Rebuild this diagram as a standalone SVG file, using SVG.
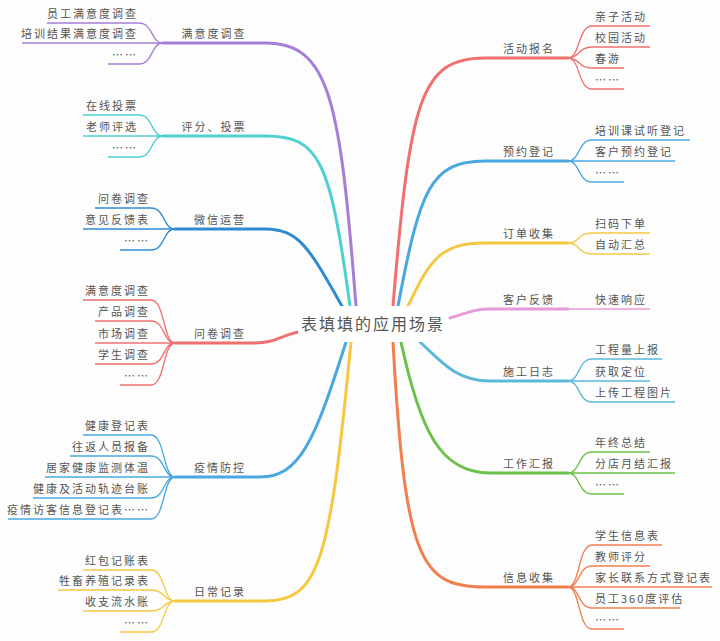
<svg xmlns="http://www.w3.org/2000/svg" width="720" height="641" viewBox="0 0 720 641">
<style>
text{font-family:"Noto Sans CJK SC","Noto Sans",sans-serif;font-size:11px;fill:#555;letter-spacing:2px}
.l{text-anchor:end}.m{text-anchor:middle}
.s{fill:none;stroke-width:1.3}.b{fill:none;stroke-width:3;stroke-linecap:round}
</style>
<rect width="720" height="641" fill="#fdfdfd"/>
<g id="connectors">
<path class="b" stroke="#a57fd6" d="M356,306 C340,100 330,43 265,43 H163"/>
<path class="b" stroke="#4fd0d0" d="M350,306 C330,160 320,136 265,136 H163"/>
<path class="b" stroke="#2f8ad2" stroke-width="3.5" d="M342,306 C310,250 300,229 265,229 H175"/>
<path class="b" stroke="#f07070" d="M298,332 C280,336 275,343 255,343 H175"/>
<path class="b" stroke="#4aa8e0" d="M346,342 C315,440 300,477 260,477 H175"/>
<path class="b" stroke="#f5c842" d="M351,342 C330,560 320,601 265,601 H175"/>
<path class="b" stroke="#f07070" d="M393,306 C410,100 420,58 485,58 H568"/>
<path class="b" stroke="#4aa8e0" d="M398,306 C420,190 430,161 485,161 H568"/>
<path class="b" stroke="#f5c842" d="M408,306 C430,260 440,243 485,243 H568"/>
<path class="b" stroke="#e89ad8" d="M450,318 C470,312 475,309 490,309 H568"/>
<path class="b" stroke="#5bb8d8" d="M420,342 C440,360 455,381 490,381 H568"/>
<path class="b" stroke="#6cc14a" d="M401,342 C420,430 440,473 490,473 H568"/>
<path class="b" stroke="#f08050" d="M393,342 C405,560 420,587 485,587 H568"/>
<g stroke="#a57fd6" class="s"><path d="M163,43 C151,43 153,23 139,23 H47"/><path d="M163,43 H22"/><path d="M163,43 C151,43 153,64 139,64 H108"/></g>
<g stroke="#4fd0d0" class="s"><path d="M163,136 C151,136 153,115 139,115 H83"/><path d="M163,136 H83"/><path d="M163,136 C151,136 153,157 139,157 H108"/></g>
<g stroke="#2f8ad2" class="s"><path d="M175,229 C163,229 165,208 151,208 H95"/><path d="M175,229 H83"/><path d="M175,229 C163,229 165,250 151,250 H120"/></g>
<g stroke="#f07070" class="s"><path d="M175,343 C163,343 165,300 151,300 H83"/><path d="M175,343 C163,343 165,321 151,321 H95"/><path d="M175,343 H95"/><path d="M175,343 C163,343 165,364 151,364 H95"/><path d="M175,343 C163,343 165,385 151,385 H120"/></g>
<g stroke="#4aa8e0" class="s"><path d="M175,477 C163,477 165,435 151,435 H83"/><path d="M175,477 C163,477 165,456 151,456 H70"/><path d="M175,477 H45"/><path d="M175,477 C163,477 165,498 151,498 H33"/><path d="M175,477 C163,477 165,519 151,519 H8"/></g>
<g stroke="#f5c842" class="s"><path d="M175,601 C163,601 165,570 151,570 H83"/><path d="M175,601 C163,601 165,590 151,590 H58"/><path d="M175,601 C163,601 165,611 151,611 H83"/><path d="M175,601 C163,601 165,632 151,632 H120"/></g>
<g stroke="#f07070" class="s"><path d="M568,58 C580,58 578,26 592,26 H650"/><path d="M568,58 C580,58 578,47 592,47 H650"/><path d="M568,58 C580,58 578,68 592,68 H624"/><path d="M568,58 C580,58 578,89 592,89 H624"/></g>
<g stroke="#4aa8e0" class="s"><path d="M568,161 C580,161 578,140 592,140 H690"/><path d="M568,161 H675"/><path d="M568,161 C580,161 578,182 592,182 H624"/></g>
<g stroke="#f5c842" class="s"><path d="M568,243 C580,243 578,233 592,233 H650"/><path d="M568,243 C580,243 578,254 592,254 H650"/></g>
<g stroke="#e89ad8" class="s"><path d="M568,309 H650"/></g>
<g stroke="#5bb8d8" class="s"><path d="M568,381 C580,381 578,359 592,359 H662"/><path d="M568,381 H650"/><path d="M568,381 C580,381 578,402 592,402 H675"/></g>
<g stroke="#6cc14a" class="s"><path d="M568,473 C580,473 578,452 592,452 H650"/><path d="M568,473 H675"/><path d="M568,473 C580,473 578,494 592,494 H624"/></g>
<g stroke="#f08050" class="s"><path d="M568,587 C580,587 578,545 592,545 H662"/><path d="M568,587 C580,587 578,566 592,566 H650"/><path d="M568,587 H712"/><path d="M568,587 C580,587 578,608 592,608 H680"/><path d="M568,587 C580,587 578,629 592,629 H624"/></g>
</g>
<g id="center"><rect x="298" y="306" width="150" height="36" rx="6" fill="#fff"/><text x="373" y="330" class="m" style="font-size:16px">表填填的应用场景</text></g>
<g id="n-manyi"><text x="214" y="38" class="m">满意度调查</text><text x="138" y="18" class="l">员工满意度调查</text><text x="138" y="38" class="l">培训结果满意度调查</text><text x="138" y="59" class="l">……</text></g>
<g id="n-pingfen"><text x="214" y="131" class="m">评分、投票</text><text x="138" y="110" class="l">在线投票</text><text x="138" y="131" class="l">老师评选</text><text x="138" y="152" class="l">……</text></g>
<g id="n-weixin"><text x="220" y="224" class="m">微信运营</text><text x="150" y="203" class="l">问卷调查</text><text x="150" y="224" class="l">意见反馈表</text><text x="150" y="245" class="l">……</text></g>
<g id="n-wenjuan"><text x="220" y="338" class="m">问卷调查</text><text x="150" y="295" class="l">满意度调查</text><text x="150" y="316" class="l">产品调查</text><text x="150" y="338" class="l">市场调查</text><text x="150" y="359" class="l">学生调查</text><text x="150" y="380" class="l">……</text></g>
<g id="n-yiqing"><text x="220" y="472" class="m">疫情防控</text><text x="150" y="430" class="l">健康登记表</text><text x="150" y="451" class="l">往返人员报备</text><text x="150" y="472" class="l">居家健康监测体温</text><text x="150" y="493" class="l">健康及活动轨迹台账</text><text x="150" y="514" class="l">疫情访客信息登记表……</text></g>
<g id="n-richang"><text x="220" y="596" class="m">日常记录</text><text x="150" y="565" class="l">红包记账表</text><text x="150" y="585" class="l">牲畜养殖记录表</text><text x="150" y="606" class="l">收支流水账</text><text x="150" y="627" class="l">……</text></g>
<g id="n-huodong"><text x="529" y="53" class="m">活动报名</text><text x="595" y="21">亲子活动</text><text x="595" y="42">校园活动</text><text x="595" y="63">春游</text><text x="595" y="84">……</text></g>
<g id="n-yuyue"><text x="529" y="156" class="m">预约登记</text><text x="595" y="135">培训课试听登记</text><text x="595" y="156">客户预约登记</text><text x="595" y="177">……</text></g>
<g id="n-dingdan"><text x="529" y="238" class="m">订单收集</text><text x="595" y="228">扫码下单</text><text x="595" y="249">自动汇总</text></g>
<g id="n-kehu"><text x="529" y="304" class="m">客户反馈</text><text x="595" y="304">快速响应</text></g>
<g id="n-shigong"><text x="529" y="376" class="m">施工日志</text><text x="595" y="354">工程量上报</text><text x="595" y="376">获取定位</text><text x="595" y="397">上传工程图片</text></g>
<g id="n-gongzuo"><text x="529" y="468" class="m">工作汇报</text><text x="595" y="447">年终总结</text><text x="595" y="468">分店月结汇报</text><text x="595" y="489">……</text></g>
<g id="n-xinxi"><text x="529" y="582" class="m">信息收集</text><text x="595" y="540">学生信息表</text><text x="595" y="561">教师评分</text><text x="595" y="582">家长联系方式登记表</text><text x="595" y="603">员工360度评估</text><text x="595" y="624">……</text></g>
</svg>
